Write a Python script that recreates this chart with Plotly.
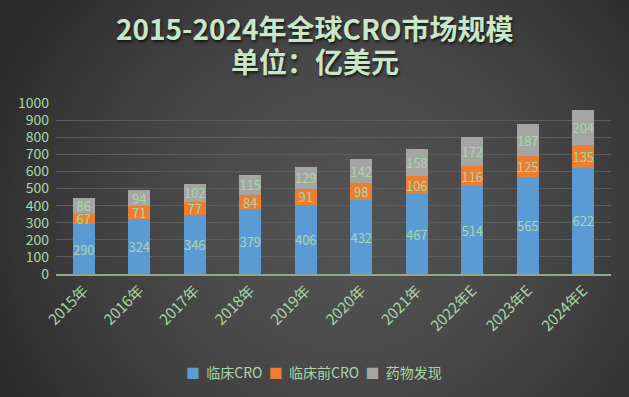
import zlib, struct, base64
import numpy as np
import plotly.graph_objects as go

categories = ["2015年", "2016年", "2017年", "2018年", "2019年", "2020年", "2021年", "2022年E", "2023年E", "2024年E"]
clinical = [290, 324, 346, 379, 406, 432, 467, 514, 565, 622]
preclinical = [67, 71, 77, 84, 91, 98, 106, 116, 125, 135]
discovery = [86, 94, 102, 115, 129, 142, 158, 172, 187, 204]
series_names = ["临床CRO", "临床前CRO", "药物发现"]
y_ticks = [0, 100, 200, 300, 400, 500, 600, 700, 800, 900, 1000]

W, H = 629, 397
ML, MR, MT, MB = 56, 18, 103, 123
PW, PH = W - ML - MR, H - MT - MB

def px_x(px):
    return (px - ML) / PW

def px_y(py):
    return (H - MB - py) / PH

# radial gradient background as an embedded PNG
def gradient_uri(w=158, h=100):
    ys, xs = np.mgrid[0:h, 0:w]
    cx, cy = w * 0.55, h * 0.55
    d = np.sqrt(((xs - cx) / (w * 0.62)) ** 2 + ((ys - cy) / (h * 0.9)) ** 2)
    d = np.clip(d, 0, 1)
    inner, outer = np.array([82, 82, 82]), np.array([42, 42, 42])
    t = d[..., None] ** 1.8
    arr = (inner[None, None, :] * (1 - t) + outer[None, None, :] * t).astype(np.uint8)
    raw = b"".join(b"\x00" + arr[r].tobytes() for r in range(h))
    def chunk(tag, data):
        return struct.pack(">I", len(data)) + tag + data + struct.pack(">I", zlib.crc32(tag + data) & 0xFFFFFFFF)
    png = (b"\x89PNG\r\n\x1a\n" + chunk(b"IHDR", struct.pack(">IIBBBBB", w, h, 8, 2, 0, 0, 0))
           + chunk(b"IDAT", zlib.compress(raw)) + chunk(b"IEND", b""))
    return "data:image/png;base64," + base64.b64encode(png).decode()

FONT = "Noto Sans CJK SC"
GREEN = "#a6d8a6"
colors = ["#5b9bd5", "#ed7d31", "#a5a5a5"]

fig = go.Figure()
for name, vals, col in zip(series_names, [clinical, preclinical, discovery], colors):
    fig.add_trace(go.Bar(
        x=categories, y=vals, name=name,
        marker=dict(color=col, line=dict(width=0)),
        text=[str(v) for v in vals], textposition="inside", insidetextanchor="middle",
        textangle=0, constraintext="none",
        textfont=dict(family=FONT, size=13, color=GREEN),
        showlegend=False,
    ))

# compact legend written as one line of text with coloured squares
legend_text = "&nbsp;&nbsp;".join(
    f"<span style='color:{c}'>■</span>&nbsp;&nbsp;{n}" for n, c in zip(series_names, colors)
)

title_font = dict(family=FONT, size=28, color="#c8e6c8", shadow="1px 2px 3px rgba(0,0,0,0.7)")

fig.update_layout(
    width=W, height=H,
    margin=dict(l=ML, r=MR, t=MT, b=MB),
    barmode="stack", bargap=0.6,
    paper_bgcolor="#454545", plot_bgcolor="rgba(0,0,0,0)",
    font=dict(family=FONT, color=GREEN),
    xaxis=dict(tickangle=-45, tickfont=dict(size=15, color=GREEN), showgrid=False,
               showline=True, linecolor="#8fa88f", linewidth=2, ticks=""),
    yaxis=dict(range=[0, 1000], tickvals=y_ticks, tickfont=dict(size=14, color=GREEN),
               gridcolor="#5c5c5c", gridwidth=1, zeroline=False, showline=False, ticks="",
               ticklabelstandoff=6),
    images=[dict(source=gradient_uri(), xref="paper", yref="paper",
                 x=-ML / PW, y=1 + MT / PH, sizex=W / PW, sizey=H / PH,
                 xanchor="left", yanchor="top", sizing="stretch", layer="below")],
    annotations=[
        dict(text="<b>2015-2024年全球CRO市场规模</b>", xref="paper", yref="paper",
             x=px_x(W / 2), y=px_y(28), xanchor="center", yanchor="middle", showarrow=False,
             font=title_font),
        dict(text="<b>单位：亿美元</b>", xref="paper", yref="paper",
             x=px_x(W / 2), y=px_y(61), xanchor="center", yanchor="middle", showarrow=False,
             font=title_font),
        dict(text=legend_text, xref="paper", yref="paper",
             x=px_x(314), y=px_y(372), xanchor="center", yanchor="middle", showarrow=False,
             font=dict(family=FONT, size=14, color=GREEN)),
    ],
)

fig.write_html("out.html", config={"displayModeBar": False},
               post_script="document.body.style.margin='0';document.body.style.padding='0';")
